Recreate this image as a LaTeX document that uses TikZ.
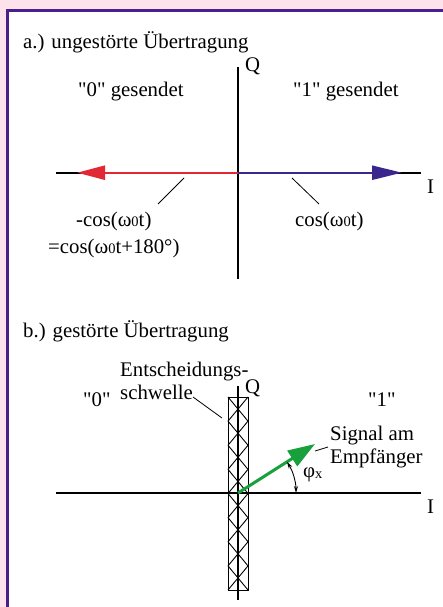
\documentclass[tikz,border=0pt]{standalone}
\usepackage{fontspec}
\setmainfont{Liberation Serif}[Ligatures=TeXOff]
\usetikzlibrary{arrows.meta}
\definecolor{bgpink}{RGB}{252,226,234}
\definecolor{framecol}{RGB}{75,30,140}
\definecolor{sigred}{RGB}{226,40,52}
\definecolor{sigblue}{RGB}{58,38,140}
\definecolor{siggreen}{RGB}{24,160,60}
\newcommand\smallsub[1]{{\fontsize{14.5}{14}\selectfont #1}}
\begin{document}
\begin{tikzpicture}[x=1pt,y=-1pt,
  txt/.style={font=\fontsize{20.8}{24}\selectfont, inner sep=0pt, anchor=base west},
  axis/.style={line width=1.6pt, black},
  leader/.style={line width=0.8pt, black}]
\useasboundingbox (0,0) rectangle (443,607);
\fill[bgpink] (0,0) rectangle (443,607);
\fill[white] (7.5,10.5) rectangle (443,607);
\draw[framecol, line width=3pt] (7.5,607) -- (7.5,10.5) -- (443,10.5);

% ---------- part a ----------
\node[txt] (ta) at (23,49) {a.) ungestörte Übertragung};
\coordinate (qaT) at (238,67);
\coordinate (qaB) at (238,279);
\coordinate (iaL) at (56,172.7);
\coordinate (iaR) at (421,172.7);
\coordinate (oa) at (238,172.7);
\coordinate (redtip) at (77,172.7);
\coordinate (bluetip) at (402,172.7);
\draw[axis] (qaT) -- (qaB);
\draw[axis] (iaL) -- (iaR);
\draw[sigred, line width=2.4pt, -{Triangle[length=28pt,width=14pt]}] (oa) -- (redtip);
\draw[sigblue, line width=2.4pt, -{Triangle[length=30pt,width=14pt]}] (oa) -- (bluetip);
\node[txt] (qa) at (245,72) {Q};
\node[txt] (ia) at (427,193) {I};
\node[txt] (g0) at (78,97) {"0" gesendet};
\node[txt] (g1) at (293,97) {"1" gesendet};
\node[txt] (mcos) at (76,226) {-cos(ω\smallsub{0}t)};
\node[txt] (pcos) at (48,253) {=cos(ω\smallsub{0}t+180°)};
\node[txt] (cos) at (295,226) {cos(ω\smallsub{0}t)};
\coordinate (l1a) at (184,178);
\coordinate (l1b) at (158,204);
\coordinate (l2a) at (292,178);
\coordinate (l2b) at (319,204);
\draw[leader] (l1a) -- (l1b);
\draw[leader] (l2a) -- (l2b);

% ---------- part b ----------
\node[txt] (tb) at (23,337) {b.) gestörte Übertragung};
\coordinate (rTL) at (228,397);
\coordinate (rBR) at (248,590);
\draw[line width=1pt] (rTL) rectangle (rBR);
\foreach \i in {0,...,7} {
  \draw[line width=0.9pt] (228,{397+\i*24.125}) -- (248,{397+(\i+1)*24.125});
  \draw[line width=0.9pt] (248,{397+\i*24.125}) -- (228,{397+(\i+1)*24.125});
}
\coordinate (qbT) at (238,386);
\coordinate (qbB) at (238,600);
\coordinate (ibL) at (56,493);
\coordinate (ibR) at (421,493);
\coordinate (ob) at (238,493);
\coordinate (greentip) at (315,444);
\draw[axis] (qbT) -- (qbB);
\draw[axis] (ibL) -- (ibR);
\node[txt] (qb) at (245,393) {Q};
\node[txt] (ib) at (427,513) {I};
\node[txt] (n0) at (83,406) {"0"};
\node[txt] (n1) at (368,406) {"1"};
\node[txt] (ent) at (120,376) {Entscheidungs-};
\node[txt] (schw) at (120,399) {schwelle};
\coordinate (l3a) at (193,397);
\coordinate (l3b) at (222,418);
\draw[leader] (l3a) -- (l3b);
\draw[siggreen, line width=3pt, -{Triangle[length=27pt,width=18pt]}] (ob) -- (greentip);
\node[txt] (sig) at (330,440) {Signal am};
\node[txt] (emp) at (330,463) {Empfänger};
\coordinate (l4a) at (315,451);
\coordinate (l4b) at (328,447);
\draw[leader] (l4a) -- (l4b);
\coordinate (arcstart) at (296,493);
\draw[line width=0.9pt, {Stealth[length=7pt,width=4pt]}-{Stealth[length=7pt,width=4pt]}]
  (arcstart) arc[start angle=0, end angle=32.5, radius=58pt];
\node[txt] (phi) at (303,477) {φ\raisebox{-1pt}{\smallsub{x}}};
\end{tikzpicture}
\end{document}
